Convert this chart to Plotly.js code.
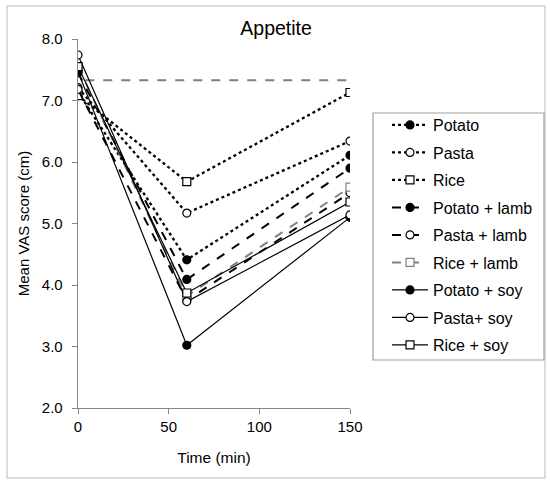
<!DOCTYPE html>
<html>
<head>
<meta charset="utf-8">
<script src="https://cdn.plot.ly/plotly-3.0.1.min.js"></script>
<style>html,body{margin:0;padding:0;background:#fff;}#chart{width:550px;height:483px;}</style>
</head>
<body>
<div id="chart"></div>
<script>
const times = [0, 60, 150];
const seriesNames = ["Potato", "Pasta", "Rice", "Potato + lamb", "Pasta + lamb", "Rice + lamb", "Potato + soy", "Pasta+ soy", "Rice + soy"];
const potato      = [7.14, 4.41, 6.11];
const pasta       = [7.21, 5.17, 6.34];
const rice        = [7.08, 5.68, 7.13];
const potatoLamb  = [7.45, 4.09, 5.90];
const pastaLamb   = [7.18, 3.75, 5.50];
const riceLamb    = [7.55, 3.82, 5.59];
const potatoSoy   = [7.47, 3.02, 5.10];
const pastaSoy    = [7.74, 3.73, 5.14];
const riceSoy     = [7.55, 3.87, 5.35];
const refTimes = [4, 150];
const refLine = [7.33, 7.33];
const yTicks = [2, 3, 4, 5, 6, 7, 8];
const xTicks = [0, 50, 100, 150];

const values = [potato, pasta, rice, potatoLamb, pastaLamb, riceLamb, potatoSoy, pastaSoy, riceSoy];
const styles = [
  {dash:'dot', width:2.3, color:'#000', sym:'circle', fill:'#000', mcol:'#000'},
  {dash:'dot', width:2.3, color:'#000', sym:'circle', fill:'#fff', mcol:'#000'},
  {dash:'dot', width:2.3, color:'#000', sym:'square', fill:'#fff', mcol:'#000'},
  {dash:'dash', width:2, color:'#000', sym:'circle', fill:'#000', mcol:'#000'},
  {dash:'dash', width:2, color:'#000', sym:'circle', fill:'#fff', mcol:'#000'},
  {dash:'dash', width:2, color:'#808080', sym:'square', fill:'#fff', mcol:'#808080'},
  {dash:'solid', width:1.2, color:'#000', sym:'circle', fill:'#000', mcol:'#000'},
  {dash:'solid', width:1.2, color:'#000', sym:'circle', fill:'#fff', mcol:'#000'},
  {dash:'solid', width:1.2, color:'#000', sym:'square', fill:'#fff', mcol:'#000'}
];

const traces = [{
  x: refTimes, y: refLine, mode: 'lines', showlegend: false, hoverinfo: 'skip',
  line: {color: '#808080', dash: 'dash', width: 2}
}];
values.forEach((v, i) => {
  const s = styles[i];
  traces.push({
    x: times, y: v, name: seriesNames[i], mode: 'lines+markers',
    legendgroup: 'g' + i,
    line: {color: s.color, dash: s.dash, width: s.width},
    marker: {symbol: s.sym, size: 8, color: s.fill, line: {color: s.mcol, width: 1.2}}
  });
});

const fontFam = 'Liberation Sans, Arial, sans-serif';
const layout = {
  width: 550, height: 483,
  margin: {l: 78, r: 200, t: 39, b: 75},
  paper_bgcolor: '#fff', plot_bgcolor: '#fff',
  font: {family: fontFam, color: '#000', size: 15},
  title: {text: 'Appetite', font: {size: 19.5, family: fontFam, color: '#000'}, x: 0.502, xref: 'container', y: 0.942, yref: 'container', xanchor: 'center', yanchor: 'middle'},
  xaxis: {
    range: [0, 150], tickvals: xTicks, ticktext: xTicks.map(String),
    showgrid: false, zeroline: false, showline: true, linecolor: '#868686', linewidth: 1.3,
    ticks: 'outside', ticklen: 5, tickcolor: '#868686', tickfont: {size: 15, color: '#000'},
    title: {text: 'Time (min)', font: {size: 15.5, color: '#000'}, standoff: 18}
  },
  yaxis: {
    range: [2, 8], tickvals: yTicks, ticktext: yTicks.map(t => t.toFixed(1)),
    showgrid: false, zeroline: false, showline: true, linecolor: '#868686', linewidth: 1.3,
    ticks: 'outside', ticklen: 5, tickcolor: '#868686', tickfont: {size: 15, color: '#000'},
    ticklabelstandoff: 6,
    title: {text: 'Mean VAS score (cm)', font: {size: 15, color: '#000'}, standoff: 8}
  },
  legend: {
    x: (387 - 78) / 272, y: (408 - 108) / 369, xanchor: 'left', yanchor: 'top',
    borderwidth: 0, bgcolor: 'rgba(0,0,0,0)',
    font: {size: 16, color: '#000', family: fontFam},
    itemwidth: 36, tracegroupgap: 3.7, traceorder: 'grouped'
  },
  shapes: [{
    type: 'rect', xref: 'paper', yref: 'paper',
    x0: (7 - 78) / 272, x1: (545 - 78) / 272, y0: (408 - 478) / 369, y1: (408 - 6) / 369,
    line: {color: '#dcdcdc', width: 2}, fillcolor: 'rgba(0,0,0,0)', layer: 'below'
  }, {
    type: 'rect', xref: 'paper', yref: 'paper',
    x0: (373 - 78) / 272, x1: (544 - 78) / 272, y0: (408 - 360) / 369, y1: (408 - 113) / 369,
    line: {color: '#a0a0a0', width: 1.2}, fillcolor: 'rgba(0,0,0,0)', layer: 'below'
  }]
};
Plotly.newPlot('chart', traces, layout, {displayModeBar: false, staticPlot: true});
</script>
</body>
</html>
